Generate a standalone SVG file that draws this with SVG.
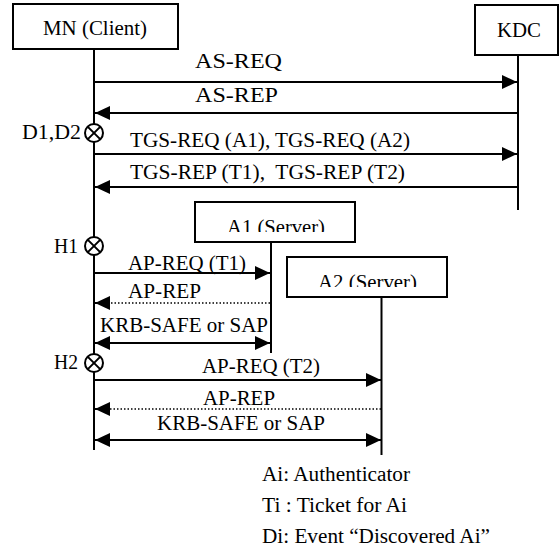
<svg xmlns="http://www.w3.org/2000/svg" width="559" height="556" viewBox="0 0 559 556" font-family="'Liberation Serif', 'Times New Roman', 'DejaVu Serif', serif">
<style>
text{font-family:'Liberation Serif','Times New Roman','DejaVu Serif',serif;font-size:20px;fill:#000}
.box{fill:#fff;stroke:#000;stroke-width:2}
.life{stroke:#000;stroke-width:2;fill:none}
.msg{stroke:#000;stroke-width:2;fill:none}
.dot{stroke:#000;stroke-width:1.5;stroke-dasharray:1.5 2;fill:none}
.ev{fill:#fff;stroke:#000;stroke-width:2}
</style>
<defs>
<marker id="ah" markerUnits="userSpaceOnUse" markerWidth="16" markerHeight="16" refX="15" refY="7" orient="auto-start-reverse">
<path d="M0,0 L15,7 L0,14 z" fill="#000"/>
</marker>
<clipPath id="c1"><rect x="196" y="203" width="158" height="29"/></clipPath>
<clipPath id="c2"><rect x="288" y="258" width="158" height="29"/></clipPath>
</defs>
<g id="mn">
<rect class="box" x="13" y="4" width="165" height="45"/>
<text x="43" y="35" textLength="104" lengthAdjust="spacingAndGlyphs">MN (Client)</text>
<line class="life" x1="94" y1="49" x2="94" y2="450"/>
</g>
<g id="kdc">
<rect class="box" x="475" y="5" width="83" height="50"/>
<text x="497" y="37" textLength="44" lengthAdjust="spacingAndGlyphs">KDC</text>
<line class="life" x1="518" y1="55" x2="518" y2="210"/>
</g>
<g id="a1">
<rect class="box" x="195" y="202" width="160" height="40"/>
<text x="227" y="234" textLength="98" lengthAdjust="spacingAndGlyphs" clip-path="url(#c1)">A1 (Server)</text>
<line class="life" x1="271" y1="242" x2="271" y2="353"/>
</g>
<g id="a2">
<rect class="box" x="287" y="257" width="160" height="40"/>
<text x="318" y="289" textLength="99" lengthAdjust="spacingAndGlyphs" clip-path="url(#c2)">A2 (Server)</text>
<line class="life" x1="381.5" y1="297" x2="381.5" y2="455"/>
</g>
<g id="events">
<g id="d1d2">
<circle class="ev" cx="94" cy="133" r="9"/>
<path d="M87.6,126.6 L100.4,139.4 M100.4,126.6 L87.6,139.4" stroke="#000" stroke-width="2"/>
<text x="22" y="139" textLength="59" lengthAdjust="spacingAndGlyphs">D1,D2</text>
</g>
<g id="h1">
<circle class="ev" cx="94" cy="246" r="9"/>
<path d="M87.6,239.6 L100.4,252.4 M100.4,239.6 L87.6,252.4" stroke="#000" stroke-width="2"/>
<text x="54" y="253" textLength="24" lengthAdjust="spacingAndGlyphs">H1</text>
</g>
<g id="h2">
<circle class="ev" cx="94" cy="363" r="9"/>
<path d="M87.6,356.6 L100.4,369.4 M100.4,356.6 L87.6,369.4" stroke="#000" stroke-width="2"/>
<text x="54" y="369" textLength="24" lengthAdjust="spacingAndGlyphs">H2</text>
</g>
</g>
<g id="connectors">
<line class="msg" x1="95" y1="82" x2="517" y2="82" marker-end="url(#ah)"/>
<text x="195" y="68" textLength="87" lengthAdjust="spacingAndGlyphs">AS-REQ</text>
<line class="msg" x1="517" y1="113" x2="95" y2="113" marker-end="url(#ah)"/>
<text x="195" y="102" textLength="83" lengthAdjust="spacingAndGlyphs">AS-REP</text>
<line class="msg" x1="103" y1="154" x2="517" y2="154" marker-end="url(#ah)"/>
<line class="msg" x1="94" y1="154" x2="103" y2="154"/>
<text x="130" y="147" textLength="280" lengthAdjust="spacingAndGlyphs">TGS-REQ (A1), TGS-REQ (A2)</text>
<line class="msg" x1="517" y1="187" x2="95" y2="187" marker-end="url(#ah)"/>
<text x="130" y="179" textLength="275" lengthAdjust="spacingAndGlyphs" xml:space="preserve">TGS-REP (T1),  TGS-REP (T2)</text>
<line class="msg" x1="95" y1="273" x2="270" y2="273" marker-end="url(#ah)"/>
<text x="128" y="270" textLength="118" lengthAdjust="spacingAndGlyphs">AP-REQ (T1)</text>
<line class="dot" x1="270" y1="303" x2="110" y2="303"/>
<line class="msg" x1="110" y1="303" x2="95" y2="303" marker-end="url(#ah)"/>
<text x="128" y="298" textLength="73" lengthAdjust="spacingAndGlyphs">AP-REP</text>
<line class="msg" x1="95" y1="343" x2="270" y2="343" marker-start="url(#ah)" marker-end="url(#ah)"/>
<text x="100" y="332" textLength="168" lengthAdjust="spacingAndGlyphs">KRB-SAFE or SAP</text>
<line class="msg" x1="95" y1="380" x2="381" y2="380" marker-end="url(#ah)"/>
<text x="202" y="373" textLength="118" lengthAdjust="spacingAndGlyphs">AP-REQ (T2)</text>
<line class="dot" x1="381" y1="409" x2="110" y2="409"/>
<line class="msg" x1="110" y1="409" x2="95" y2="409" marker-end="url(#ah)"/>
<text x="203" y="405" textLength="72" lengthAdjust="spacingAndGlyphs">AP-REP</text>
<line class="msg" x1="95" y1="440" x2="381" y2="440" marker-start="url(#ah)" marker-end="url(#ah)"/>
<text x="157" y="430" textLength="168" lengthAdjust="spacingAndGlyphs">KRB-SAFE or SAP</text>
</g>
<g id="legend">
<text x="262" y="481" textLength="148" lengthAdjust="spacingAndGlyphs">Ai: Authenticator</text>
<text x="262" y="512" textLength="145" lengthAdjust="spacingAndGlyphs" xml:space="preserve">Ti : Ticket for Ai</text>
<text x="262" y="543" textLength="228" lengthAdjust="spacingAndGlyphs">Di: Event “Discovered Ai”</text>
</g>
</svg>
